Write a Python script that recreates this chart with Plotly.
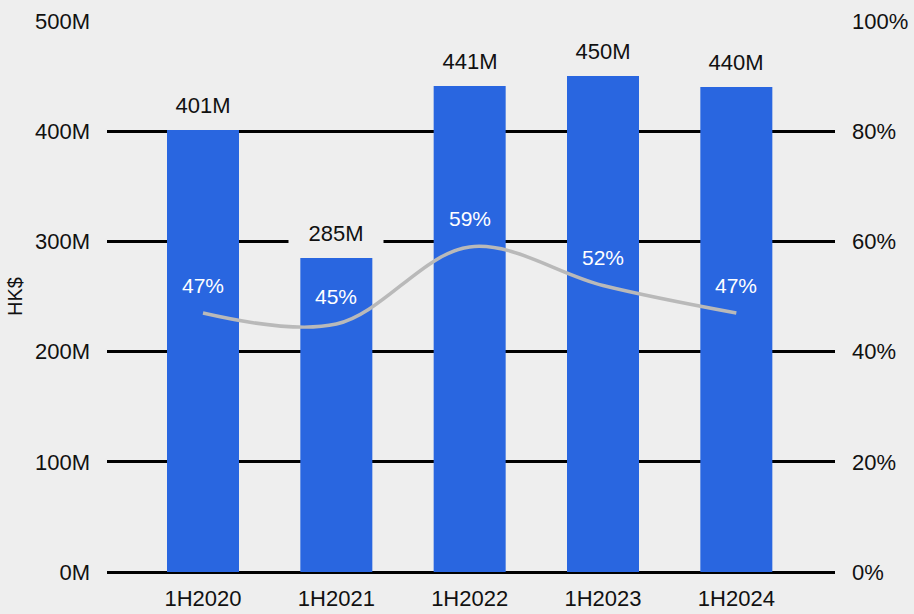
import plotly.graph_objects as go

# Half-year revenue (HK$ millions) and margin (%)
periods = ["1H2020", "1H2021", "1H2022", "1H2023", "1H2024"]
revenue_m = [401, 285, 441, 450, 440]
margin_pct = [47, 45, 59, 52, 47]

left_ticks = [0, 100, 200, 300, 400, 500]
right_ticks = [0, 20, 40, 60, 80, 100]

BG = "#eeeeee"
BAR = "#2966e0"
LINE = "#b9b9b9"
FONT = "Liberation Sans, Arial, Helvetica, sans-serif"

fig = go.Figure()

fig.add_trace(go.Bar(
    x=list(range(len(periods))),
    y=revenue_m,
    marker=dict(color=BAR, line=dict(width=0)),
    width=0.54,
    yaxis="y",
    hoverinfo="skip",
))

fig.add_trace(go.Scatter(
    x=list(range(len(periods))),
    y=margin_pct,
    mode="lines",
    line=dict(color=LINE, width=3.5, shape="spline", smoothing=1),
    yaxis="y2",
    hoverinfo="skip",
))

annotations = []
for i, v in enumerate(revenue_m):
    annotations.append(dict(
        x=i, y=v, xref="x", yref="y",
        text=f"{v}M", showarrow=False,
        yanchor="bottom", yshift=10,
        width=92, height=26, bgcolor=BG,
        font=dict(family=FONT, size=22, color="#111111"),
    ))
for i, p in enumerate(margin_pct):
    annotations.append(dict(
        x=i, y=p, xref="x", yref="y2",
        text=f"{p}%", showarrow=False,
        yanchor="middle", yshift=28,
        font=dict(family=FONT, size=21, color="#ffffff"),
    ))

fig.update_layout(
    width=914, height=614,
    margin=dict(l=107, r=79, t=21, b=42, autoexpand=False),
    paper_bgcolor=BG, plot_bgcolor=BG,
    showlegend=False,
    font=dict(family=FONT, size=22, color="#111111"),
    annotations=annotations,
    xaxis=dict(
        range=[-0.72, 4.74],
        tickvals=list(range(len(periods))),
        ticktext=periods,
        showgrid=False, zeroline=False, showline=False,
        ticks="", ticklabelstandoff=11, automargin=False,
        tickfont=dict(size=22),
    ),
    yaxis=dict(
        range=[0, 500],
        tickvals=left_ticks,
        ticktext=[f"{t}M" for t in left_ticks],
        showgrid=True, gridcolor="#000000", gridwidth=2.5,
        zeroline=True, zerolinecolor="#000000", zerolinewidth=2.5,
        showline=False, ticks="", ticklabelstandoff=16, automargin=False,
        tickfont=dict(size=22),
        title=dict(text="HK$", font=dict(size=20), standoff=6),
    ),
    yaxis2=dict(
        range=[0, 100],
        overlaying="y", side="right",
        tickvals=right_ticks,
        ticktext=[f"{t}%" for t in right_ticks],
        showgrid=False, zeroline=False, showline=False,
        ticks="", ticklabelstandoff=16, automargin=False,
        tickfont=dict(size=22),
    ),
)

fig.write_html("out.html")
